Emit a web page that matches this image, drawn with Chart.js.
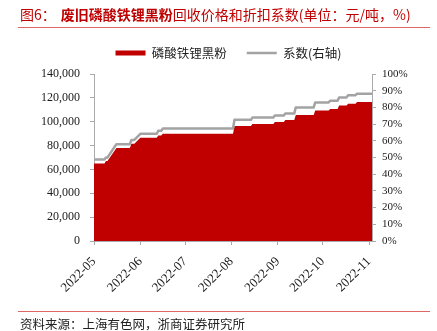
<!DOCTYPE html>
<html>
<head>
<meta charset="utf-8">
<script src="https://cdn.jsdelivr.net/npm/chart.js@4.4.0/dist/chart.umd.min.js"></script>
<style>
  html, body { margin: 0; padding: 0; background: #fff; }
  #wrap { position: relative; width: 437px; height: 331px; overflow: hidden; font-family: "Noto Sans CJK SC", sans-serif; }
  #c { position: absolute; left: 0; top: 0; }
  #title { position: absolute; left: 20px; top: 5px; font-size: 14px; line-height: 18px; color: #c00000; white-space: nowrap; }
  #title b { font-weight: bold; margin-left: 5px; }
  .rule { position: absolute; left: 18px; width: 412px; height: 1px; background: #e06666; }
  #source { position: absolute; left: 20px; top: 316px; font-size: 12.5px; line-height: 16px; color: #222; white-space: nowrap; }
</style>
</head>
<body>
<div id="wrap">
  <canvas id="c" width="437" height="331"></canvas>
  <div id="title">图6：<b>废旧磷酸铁锂黑粉</b>回收价格和折扣系数(单位：元/吨，%)</div>
  <div class="rule" style="top:27px"></div>
  <div class="rule" style="top:311px"></div>
  <div id="source">资料来源：上海有色网，浙商证券研究所</div>
</div>
<script>
// Daily quotes: first and last day of each flat stretch, plus the ramps in between
const pointDates = [
  '2022-05-01', '2022-05-08', '2022-05-09', '2022-05-10', '2022-05-16', '2022-05-25',
  '2022-05-26', '2022-05-28', '2022-06-01', '2022-06-12', '2022-06-13', '2022-06-15',
  '2022-06-16', '2022-08-02', '2022-08-03', '2022-08-14', '2022-08-15', '2022-08-29',
  '2022-08-30', '2022-09-05', '2022-09-06', '2022-09-12', '2022-09-13', '2022-09-25',
  '2022-09-26', '2022-10-05', '2022-10-06', '2022-10-11', '2022-10-12', '2022-10-17',
  '2022-10-18', '2022-10-23', '2022-10-24', '2022-11-03'
];
// 磷酸铁锂黑粉 price, 元/吨
const priceValues = [
  65000, 65000, 67000, 67000, 78000, 78000,
  81500, 81500, 86500, 86500, 88500, 88500,
  90000, 90000, 96500, 96500, 98000, 98000,
  99800, 99800, 101400, 101400, 105600, 105600,
  109400, 109400, 110600, 110600, 113500, 113500,
  115000, 115000, 116500, 116500
];
// 系数, %
const coefValues = [
  48.8, 48.8, 50.0, 50.0, 58.0, 58.0,
  60.5, 60.5, 64.2, 64.2, 66.0, 66.0,
  67.3, 67.3, 72.6, 72.6, 73.9, 73.9,
  75.1, 75.1, 76.4, 76.4, 80.0, 80.0,
  83.0, 83.0, 84.0, 84.0, 86.0, 86.0,
  87.3, 87.3, 88.2, 88.2
];
const monthLabels = ['2022-05', '2022-06', '2022-07', '2022-08', '2022-09', '2022-10', '2022-11'];
const seriesNames = ['磷酸铁锂黑粉', '系数(右轴)'];

const DAY = 86400000;
const START = Date.UTC(2022, 4, 1);
function dayOf(s) {
  const p = s.split('-').map(Number);
  return (Date.UTC(p[0], p[1] - 1, p[2] || 1) - START) / DAY;
}

const axisColor = '#aaaaaa';

// extra room between the legend and the plot
const legendGap = {
  id: 'legendGap',
  beforeInit(chart) {
    const fit = chart.legend.fit;
    chart.legend.fit = function () { fit.call(this); this.height += 4.75; };
  }
};

new Chart(document.getElementById('c'), {
  type: 'line',
  data: {
    datasets: [
      {
        label: seriesNames[0],
        data: pointDates.map((d, i) => ({ x: dayOf(d), y: priceValues[i] })),
        yAxisID: 'y',
        fill: 'origin',
        backgroundColor: '#c00000',
        borderColor: '#c00000',
        borderWidth: 0,
        pointRadius: 0,
        pointStyle: 'rect'
      },
      {
        label: seriesNames[1],
        data: pointDates.map((d, i) => ({ x: dayOf(d), y: coefValues[i] })),
        yAxisID: 'y1',
        fill: false,
        borderColor: '#a3a3a3',
        backgroundColor: '#a3a3a3',
        borderWidth: 2.5,
        borderJoinStyle: 'round',
        pointRadius: 0,
        pointStyle: 'line'
      }
    ]
  },
  options: {
    responsive: false,
    animation: false,
    devicePixelRatio: 1,
    layout: { padding: { left: 20, right: 0, top: 26.75, bottom: 0 } },
    plugins: {
      filler: { drawTime: 'beforeDatasetsDraw' },
      tooltip: { enabled: false },
      legend: {
        position: 'top',
        labels: {
          usePointStyle: true,
          pointStyleWidth: 30,
          boxHeight: 5,
          padding: 20,
          color: '#222',
          font: { family: 'Noto Sans CJK SC', size: 12.5 }
        }
      }
    },
    scales: {
      x: {
        type: 'linear',
        min: 0,
        max: dayOf('2022-11-03'),
        afterBuildTicks(scale) { scale.ticks = monthLabels.map(m => ({ value: dayOf(m) })); },
        afterFit(scale) { scale.height = 90; },
        ticks: {
          autoSkip: false,
          minRotation: 45,
          maxRotation: 45,
          padding: 9,
          color: '#1a1a1a',
          font: { family: 'Liberation Serif', size: 13 },
          callback: (v, i) => monthLabels[i]
        },
        grid: { drawOnChartArea: false, tickLength: 4, color: axisColor },
        border: { color: axisColor }
      },
      y: {
        position: 'left',
        min: 0,
        max: 140000,
        afterFit(scale) { scale.width = 74; },
        ticks: {
          stepSize: 20000,
          padding: 10,
          color: '#1a1a1a',
          font: { family: 'Liberation Serif', size: 12 },
          callback: v => v.toLocaleString('en-US')
        },
        grid: { drawOnChartArea: false, tickLength: 4, color: axisColor },
        border: { color: axisColor }
      },
      y1: {
        position: 'right',
        min: 0,
        max: 100,
        afterFit(scale) { scale.width = 65; },
        ticks: {
          stepSize: 10,
          padding: 6,
          color: '#1a1a1a',
          font: { family: 'Liberation Serif', size: 11 },
          callback: v => v + '%'
        },
        grid: { drawOnChartArea: false, tickLength: 4, color: axisColor },
        border: { color: axisColor }
      }
    }
  },
  plugins: [legendGap]
});
</script>
</body>
</html>
